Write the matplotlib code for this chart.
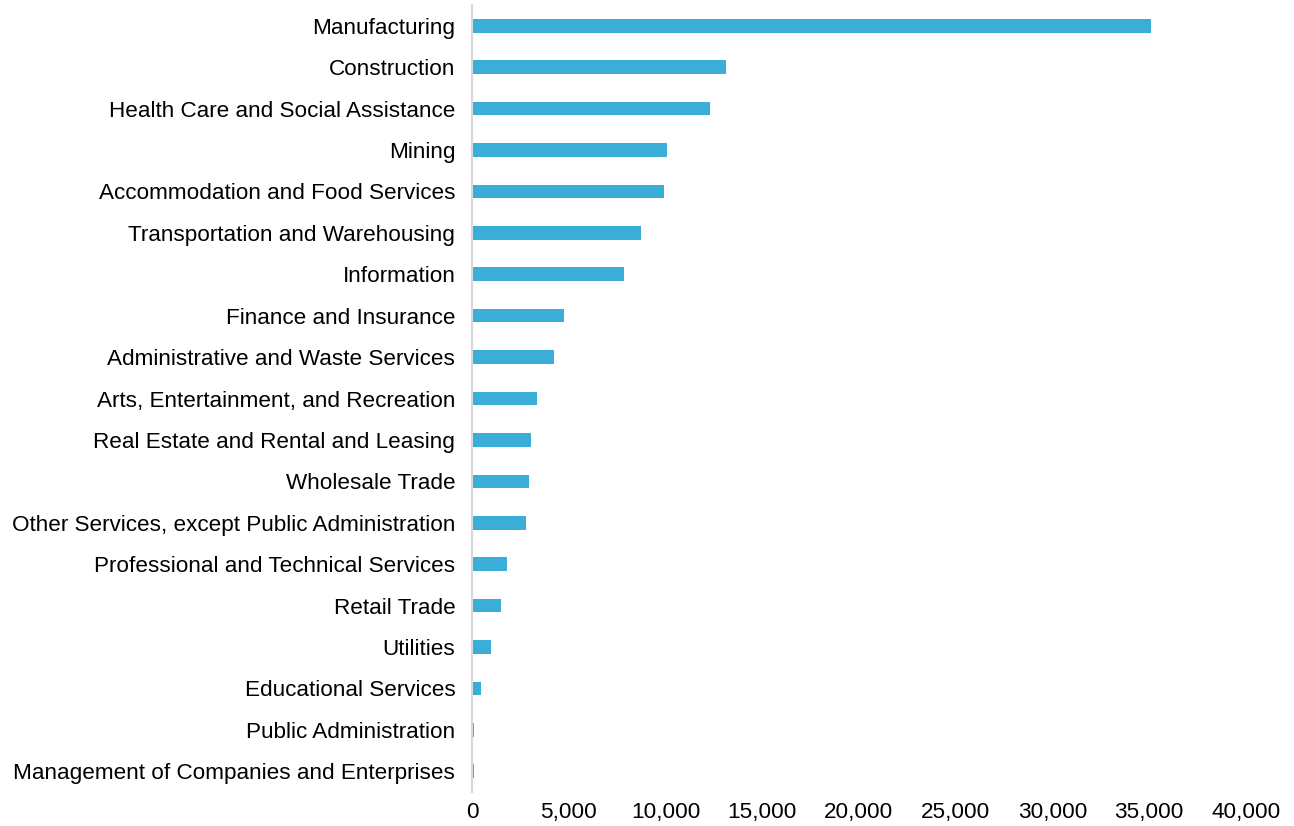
import numpy as np
import matplotlib.pyplot as plt
from matplotlib.ticker import FuncFormatter

industries = [
    "Manufacturing",
    "Construction",
    "Health Care and Social Assistance",
    "Mining",
    "Accommodation and Food Services",
    "Transportation and Warehousing",
    "Information",
    "Finance and Insurance",
    "Administrative and Waste Services",
    "Arts, Entertainment, and Recreation",
    "Real Estate and Rental and Leasing",
    "Wholesale Trade",
    "Other Services, except Public Administration",
    "Professional and Technical Services",
    "Retail Trade",
    "Utilities",
    "Educational Services",
    "Public Administration",
    "Management of Companies and Enterprises",
]
values = [35100, 13150, 12300, 10100, 9900, 8750, 7850, 4740, 4220, 3380,
          3050, 2930, 2790, 1830, 1500, 980, 470, 90, 80]

plt.rcParams["font.family"] = ["Liberation Sans", "DejaVu Sans"]

fig = plt.figure(figsize=(12.94, 8.26), dpi=100)
ax = fig.add_axes([472 / 1294, 1 - 792 / 826, (1246 - 472) / 1294, (792 - 5) / 826])

y = np.arange(len(industries))
ax.barh(y, values, height=0.33, color="#3AADD9", edgecolor="none")

ax.set_ylim(len(industries) - 0.5, -0.5)
ax.set_yticks(y)
ax.set_yticklabels(industries, fontsize=16.2)
ax.set_xlim(0, 40000)
ax.set_xticks(np.arange(0, 40001, 5000))
ax.xaxis.set_major_formatter(FuncFormatter(lambda v, _: f"{int(v):,}"))
ax.tick_params(axis="x", labelsize=16.2, length=0, pad=7)
ax.tick_params(axis="y", length=0, pad=12)

for side in ["top", "right", "bottom"]:
    ax.spines[side].set_visible(False)
ax.spines["left"].set_color("#d9d9d9")
ax.spines["left"].set_linewidth(1.5)

fig.savefig("out.png", dpi=100)
